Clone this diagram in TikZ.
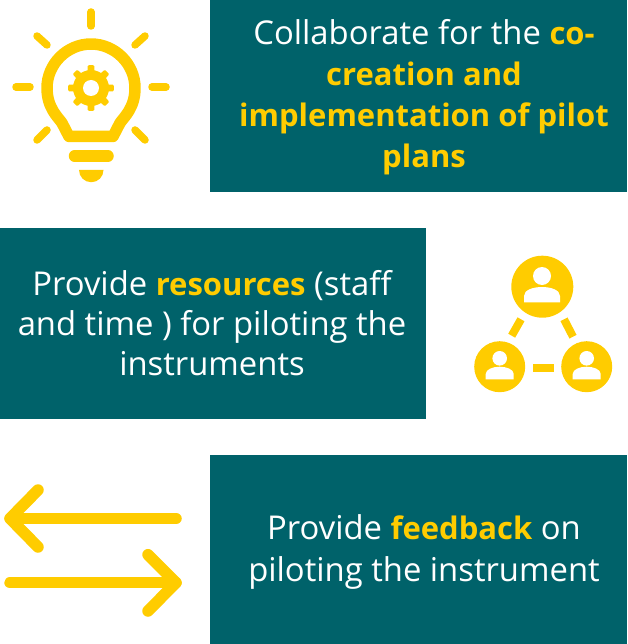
\documentclass[tikz,border=0pt]{standalone}
\usepackage{fontspec}
\setmainfont{Open Sans}
\definecolor{tealbox}{HTML}{00626A}
\definecolor{goldy}{HTML}{FFCC00}
\newcommand{\hl}[1]{\textcolor{goldy}{\fontsize{31}{41}\selectfont\bfseries #1}}
\tikzset{
  label/.style={text=white,align=center,font=\fontsize{32.8}{41.2}\selectfont,inner sep=0pt},
  labeltight/.style={label,font=\fontsize{32.8}{40.3}\selectfont},
  ray/.style={draw=goldy,line width=7.5pt,line cap=round},
  stem/.style={draw=goldy,line width=11.5pt,line cap=round,line join=round},
  link/.style={draw=goldy,line width=8pt},
  bulbline/.style={draw=goldy,line width=11.5pt,line join=round},
}
\begin{document}
\begin{tikzpicture}[x=1pt,y=-1pt]
\useasboundingbox (0,0) rectangle (627,644);
% panels
\fill[tealbox] (210,0) rectangle (627,192);
\fill[tealbox] (0,227.5) rectangle (426,419);
\fill[tealbox] (210,455) rectangle (627,644);
\node[label] (t1) at (424,97) {Collaborate for the \hl{co-}\\\hl{creation and}\\\hl{implementation of pilot}\\\hl{plans}};
\node[labeltight] (t2) at (212,323) {Provide \hl{resources} (staff\\and time ) for piloting the\\instruments};
\node[label] (t3) at (424,552) {Provide \hl{feedback} on\\piloting the instrument};
% bulb rays
\foreach \a/\b/\c/\d in {91/12/91/26, 37/36/47/45, 145/36/135/45, 16/87/30/87, 152/87/166/87, 37/140/47/130, 145/140/135/130}
  \draw[ray] (\a,\b) -- (\c,\d);
% bulb
\draw[bulbline] (69,136.5) -- (62,123) .. controls (58,117) and (47,108) .. (47,88)
  .. controls (47,64) and (67,44) .. (91,44)
  .. controls (115,44) and (135,64) .. (135,88)
  .. controls (135,108) and (124,117) .. (120,123) -- (113,136.5) -- cycle;
\draw[stem] (74.5,156) -- (108,156);
\fill[goldy] (79,170) -- (103.5,170) arc[start angle=0,end angle=180,radius=12.25] -- cycle;
% gear
\begin{scope}[shift={(91,88)}]
\fill[goldy] (0,0) circle[radius=18];
\foreach \i in {0,45,...,315}
  \fill[goldy,rounded corners=1pt] (\i-13:16) -- (\i-8:23) -- (\i+8:23) -- (\i+13:16) -- cycle;
\fill[white] (0,0) circle[radius=8];
\end{scope}
% people
\fill[goldy] (542.3,286.7) circle[radius=31];
\fill[goldy] (499.7,366.7) circle[radius=25.5];
\fill[goldy] (586.7,366.7) circle[radius=25.5];
\fill[white] (542,276) circle[radius=9];
\fill[white] (524,302.3) -- (524,296) .. controls (524,290) and (533,287) .. (542,287) .. controls (551,287) and (560,290) .. (560,296) -- (560,302.3) -- cycle;
\foreach \cx in {499.7,586.7}{
  \fill[white] (\cx,358.3) circle[radius=7.3];
  \fill[white] (\cx-14,379.3) -- (\cx-14,374) .. controls (\cx-14,369.5) and (\cx-7,366.7) .. (\cx,366.7) .. controls (\cx+7,366.7) and (\cx+14,369.5) .. (\cx+14,374) -- (\cx+14,379.3) -- cycle;
}
\draw[link] (521,319.3) -- (511.7,335.7);
\draw[link] (564,319.3) -- (573,336.7);
\draw[link] (533,367.7) -- (553.7,367.7);
% arrows
\draw[stem] (176,518.5) -- (10,518.5);
\draw[stem] (38,490) -- (10,518.5) -- (38,547);
\draw[stem] (10,582.7) -- (176,582.7);
\draw[stem] (148,554.7) -- (176,582.7) -- (148,611);
\end{tikzpicture}
\end{document}
